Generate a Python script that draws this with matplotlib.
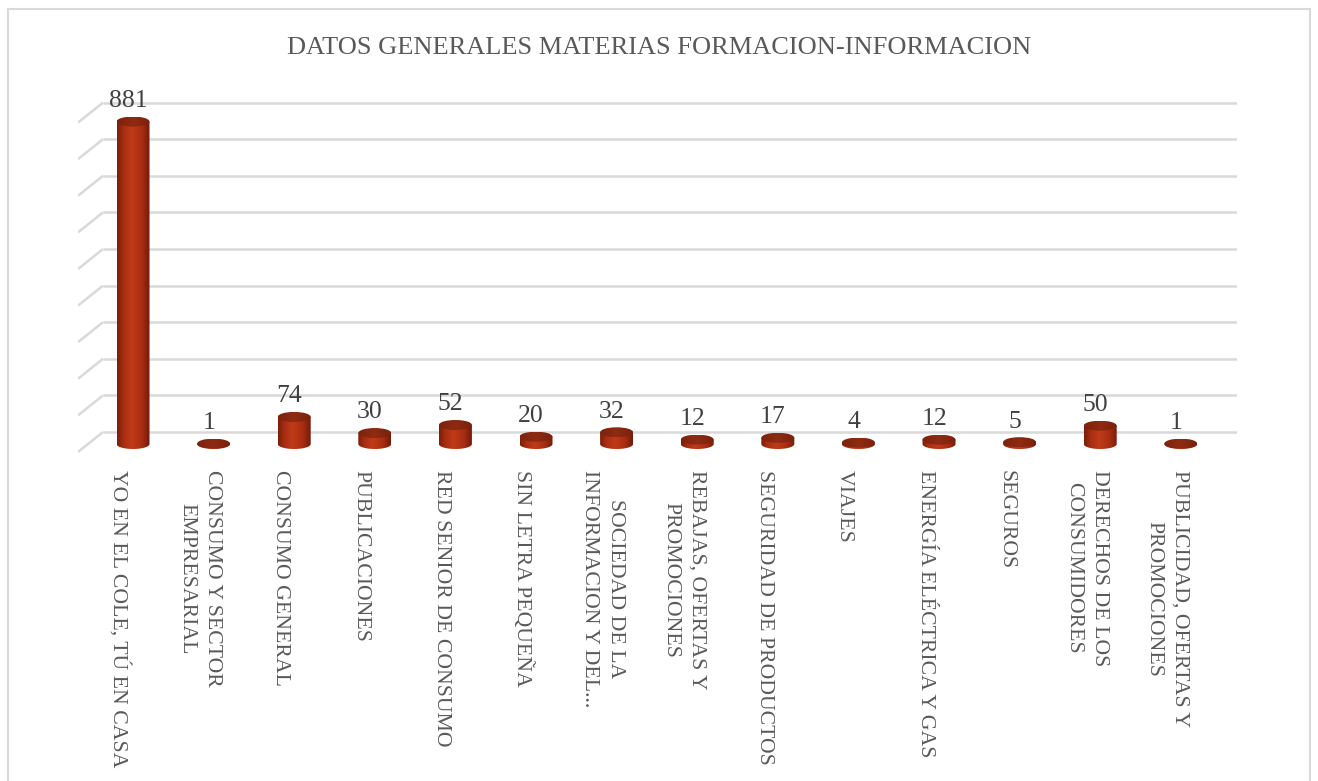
import numpy as np
import matplotlib
matplotlib.use("Agg")
import matplotlib.pyplot as plt
from matplotlib.patches import Ellipse, Rectangle, PathPatch
from matplotlib.path import Path
from matplotlib.colors import LinearSegmentedColormap

# datos
categorias = [
    "YO EN EL COLE, TÚ EN CASA",
    "CONSUMO Y SECTOR\nEMPRESARIAL",
    "CONSUMO GENERAL",
    "PUBLICACIONES",
    "RED SENIOR DE CONSUMO",
    "SIN LETRA PEQUEÑA",
    "SOCIEDAD DE LA\nINFORMACION Y DEL...",
    "REBAJAS, OFERTAS Y\nPROMOCIONES",
    "SEGURIDAD DE PRODUCTOS",
    "VIAJES",
    "ENERGÍA ELÉCTRICA Y GAS",
    "SEGUROS",
    "DERECHOS DE LOS\nCONSUMIDORES",
    "PUBLICIDAD, OFERTAS Y\nPROMOCIONES",
]
valores = [881, 1, 74, 30, 52, 20, 32, 12, 17, 4, 12, 5, 50, 1]
titulo = "DATOS GENERALES MATERIAS FORMACION-INFORMACION"
lineas_guia = list(range(0, 1000, 100))

W, H = 1318, 781
K = 0.366          # pixeles por unidad
BASE = 444         # pixel de la base de las barras
PASO = 80.6        # pixeles entre categorias
X0 = 133           # pixel del centro de la primera barra

fig = plt.figure(figsize=(W / 100, H / 100), dpi=100)

top_px, bot_px, left_px, right_px = 96, 456, 78, 1237
ax = fig.add_axes([left_px / W, 1 - bot_px / H, (right_px - left_px) / W, (bot_px - top_px) / H])
ax.set_axis_off()

xlim = ((left_px - X0) / PASO, (right_px - X0) / PASO)
ylim = (-(bot_px - BASE) / K, (BASE - top_px) / K)

gris = "#d9d9d9"
off_back = 12 / K
off_diag = 20 / K
x_wall = (103 - X0) / PASO
for v in lineas_guia:
    ax.plot([x_wall, xlim[1]], [v + off_back] * 2, color=gris, lw=1.8, zorder=1,
            solid_capstyle="butt")
    ax.plot([xlim[0], x_wall], [v + off_back - off_diag, v + off_back], color=gris, lw=1.8,
            zorder=1, solid_capstyle="butt")

cmap = LinearSegmentedColormap.from_list(
    "cil", [(0, "#7a1e08"), (0.2, "#a82e12"), (0.45, "#c03a18"), (0.75, "#a82e12"), (1, "#74190a")])
cmap_tapa = LinearSegmentedColormap.from_list("tapa", ["#7c220d", "#8f2b12", "#7a200c"])
grad = np.linspace(0, 1, 200).reshape(1, -1)

w = 33 / PASO
eh = 10 / K
t = np.linspace(np.pi, 2 * np.pi, 60)
for i, v in enumerate(valores):
    verts = [(i + w / 2 * np.cos(a), eh / 2 * np.sin(a)) for a in t]
    verts += [(i + w / 2, v), (i - w / 2, v), verts[0]]
    codes = [Path.MOVETO] + [Path.LINETO] * (len(verts) - 2) + [Path.CLOSEPOLY]
    body = PathPatch(Path(verts, codes), facecolor="none", edgecolor="none")
    ax.add_patch(body)
    im = ax.imshow(grad, cmap=cmap, extent=[i - w / 2, i + w / 2, -eh / 2, v],
                   aspect="auto", zorder=3, interpolation="bilinear")
    im.set_clip_path(body)
    tapa = Ellipse((i, v), w, eh, facecolor="none", edgecolor="none")
    ax.add_patch(tapa)
    im2 = ax.imshow(grad, cmap=cmap_tapa, extent=[i - w / 2, i + w / 2, v - eh / 2, v + eh / 2],
                    aspect="auto", zorder=4, interpolation="bilinear")
    im2.set_clip_path(tapa)

    ax.text(i - 0.06, v + 40, str(v), ha="center", va="baseline", fontsize=18.5,
            color="#404040", family="Liberation Serif", zorder=5)
    ax.text(i - 0.17, -(470 - BASE) / K, categorias[i], rotation=270, ha="center", va="top",
            multialignment="center", fontsize=15.7, color="#595959",
            family="Liberation Serif", clip_on=False, linespacing=1.5)

ax.set_xlim(*xlim)
ax.set_ylim(*ylim)

fig.text(0.5, 1 - 48 / H, titulo, ha="center", va="center", fontsize=19,
         color="#595959", family="Liberation Serif")

fig.patches.append(Rectangle((8 / W, -0.01), (1310 - 8) / W, 1 - 9 / H + 0.01,
                             transform=fig.transFigure, fill=False, edgecolor=gris, lw=1.5))

fig.savefig("out.png", dpi=100)
